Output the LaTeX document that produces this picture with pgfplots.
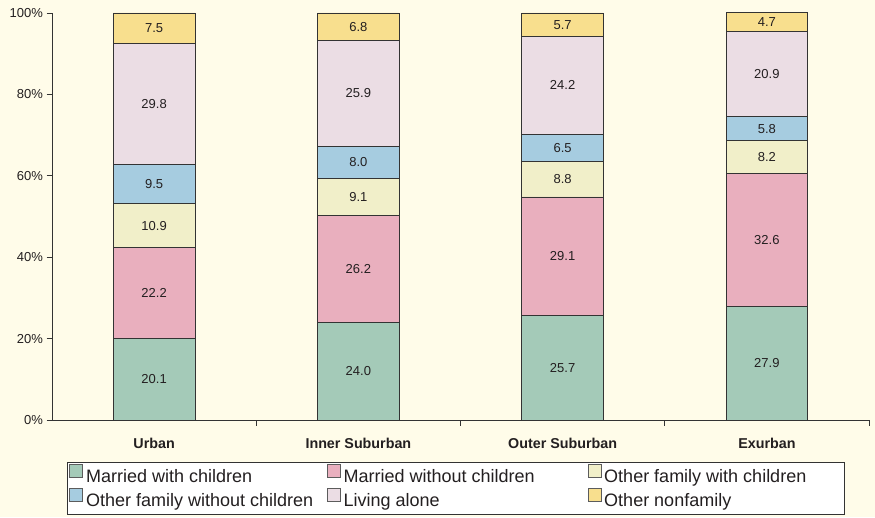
\documentclass[border=0pt]{standalone}
\usepackage{pgfplots}
\pgfplotsset{compat=1.18}
\usepackage{pgfplotstable}
\usepackage{fontspec}
\setmainfont{Liberation Sans}
\definecolor{bg}{HTML}{FFFCE9}
\definecolor{cA}{HTML}{A4CAB8}
\definecolor{cB}{HTML}{E9AFBE}
\definecolor{cC}{HTML}{F1EFC9}
\definecolor{cD}{HTML}{A6CCE0}
\definecolor{cE}{HTML}{EBDDE4}
\definecolor{cF}{HTML}{F8DF8E}
\definecolor{edge}{HTML}{333333}
\definecolor{txt}{HTML}{231F20}

\pgfplotstableread{
x mwc mwoc ofwc ofwoc alone nonfam
0 20.1 22.2 10.9 9.5 29.8 7.5
1 24.0 26.2 9.1 8.0 25.9 6.8
2 25.7 29.1 8.8 6.5 24.2 5.7
3 27.9 32.6 8.2 5.8 20.9 4.7
}\datatable

\pgfplotsset{
  seg/.style={fill=#1, draw=edge, line width=0.8pt,
    legend image code/.code={\draw[fill=#1, draw=edge!80, line width=0.6pt] (0pt,0pt) rectangle (13pt,13pt);}},
}

\begin{document}
\begin{tikzpicture}
\fill[bg] (0,0) rectangle (875pt,517pt);
\begin{axis}[
  at={(52pt,97pt)}, anchor=south west,
  width=817pt, height=407pt, scale only axis,
  ybar stacked, bar width=0.4,
  xmin=-0.5, xmax=3.5, ymin=0, ymax=100,
  enlargelimits=false,
  clip=false,
  axis lines*=left,
  axis line style={draw=edge, line width=0.9pt},
  xtick={0.5,1.5,2.5,3.5}, xticklabels={},
  extra x ticks={0,1,2,3},
  extra x tick labels={Urban,Inner Suburban,Outer Suburban,Exurban},
  extra x tick style={tick style={draw=none},
    tick label style={font=\fontsize{14.3}{15}\selectfont\bfseries, text=txt, yshift=-9pt}},
  ytick={0,20,40,60,80,100},
  yticklabel={\pgfmathprintnumber{\tick}\%},
  /pgf/number format/assume math mode=true,
  tick align=outside,
  major tick length=5.5pt,
  tick style={draw=edge, line width=0.9pt},
  yticklabel style={font=\fontsize{13}{15}\selectfont, text=txt},
  visualization depends on={rawy \as \segval},
  nodes near coords={\pgfmathprintnumber[fixed,fixed zerofill,precision=1]{\segval}},
  every node near coord/.append style={anchor=center,
    font=\fontsize{13}{15}\selectfont, text=txt},
  legend columns=3,
  legend style={at={(0.0184,-0.1032)}, anchor=north west,
    font=\fontsize{18}{20}\selectfont, text=txt,
    draw=edge, fill=white, line width=0.8pt, inner sep=2pt,
    /tikz/column sep=0pt, /tikz/row sep=0pt,
    nodes={inner xsep=3pt, inner ysep=2pt, text height=13.5pt, text depth=4pt}},
]
\addplot[seg=cA] table[x=x, y=mwc] {\datatable};
\addlegendentry{\makebox[238pt][l]{Married with children}}
\addplot[seg=cB] table[x=x, y=mwoc] {\datatable};
\addlegendentry{\makebox[241pt][l]{Married without children}}
\addplot[seg=cC] table[x=x, y=ofwc] {\datatable};
\addlegendentry{\makebox[235pt][l]{Other family with children}}
\addplot[seg=cD] table[x=x, y=ofwoc] {\datatable};
\addlegendentry{\makebox[238pt][l]{Other family without children}}
\addplot[seg=cE] table[x=x, y=alone] {\datatable};
\addlegendentry{\makebox[241pt][l]{Living alone}}
\addplot[seg=cF] table[x=x, y=nonfam] {\datatable};
\addlegendentry{\makebox[235pt][l]{Other nonfamily}}
\end{axis}
\pgfresetboundingbox
\path[use as bounding box] (0,0) rectangle (875pt,517pt);
\end{tikzpicture}
\end{document}
